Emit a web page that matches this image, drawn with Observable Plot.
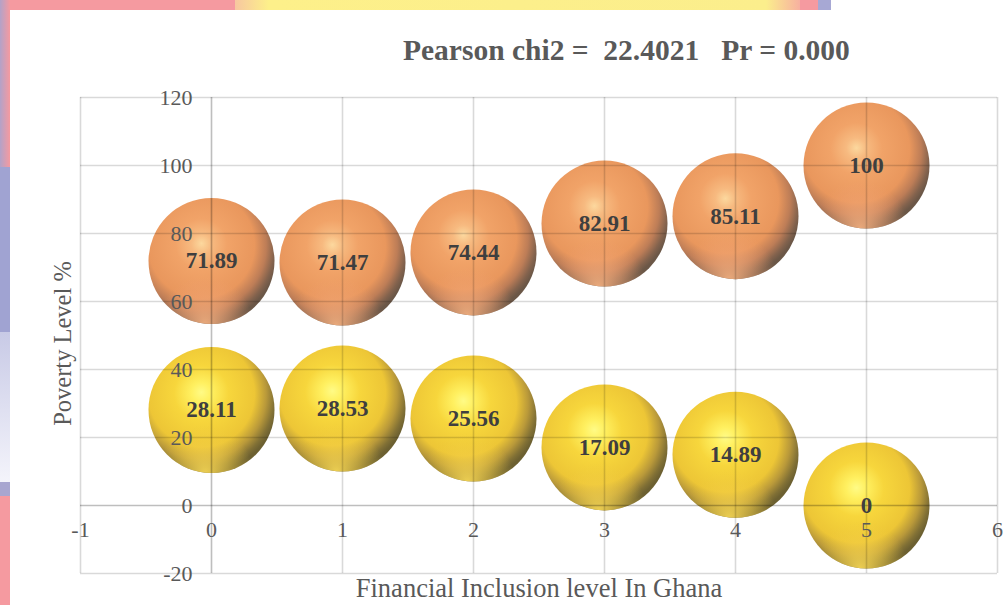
<!DOCTYPE html>
<html>
<head>
<meta charset="utf-8">
<script src="https://cdn.jsdelivr.net/npm/d3@7"></script>
<script src="https://cdn.jsdelivr.net/npm/@observablehq/plot@0.6"></script>
<style>
  html, body { margin: 0; padding: 0; }
  body { width: 1007px; height: 605px; position: relative; overflow: hidden; background: #fff; font-family: "Liberation Serif", "Times New Roman", serif; }
  .band { position: absolute; }
  #card { position: absolute; left: 10px; top: 10px; width: 997px; height: 595px; background: #fff; }
  #title { position: absolute; left: 393px; top: 25px; font-size: 29.5px; line-height: 30px; font-weight: bold; color: #595959; white-space: pre; }
  #chart { position: absolute; left: 0px; top: 60px; }
</style>
</head>
<body>
<div class="band" style="left:0;top:0;width:235px;height:10px;background:#f59aa0"></div>
<div class="band" style="left:235px;top:0;width:565px;height:10px;background:linear-gradient(90deg,#f7c7a0 0%,#fdf08a 6%,#fbee8c 94%,#f7b0a0 100%)"></div>
<div class="band" style="left:800px;top:0;width:18px;height:10px;background:#f59aa0"></div>
<div class="band" style="left:818px;top:0;width:13px;height:10px;background:#a7a8d4"></div>
<div class="band" style="left:0;top:0;width:10px;height:167px;background:linear-gradient(90deg,#b3a2c8,#f59aa0)"></div>
<div class="band" style="left:0;top:167px;width:10px;height:165px;background:#a0a3d2"></div>
<div class="band" style="left:0;top:332px;width:10px;height:150px;background:linear-gradient(180deg,#c8cae6,#f4f4fb)"></div>
<div class="band" style="left:0;top:482px;width:10px;height:14px;background:#a8a6d0"></div>
<div class="band" style="left:0;top:496px;width:10px;height:109px;background:#f59aa0"></div>
<div id="card">
  <div id="title"></div>
  <div id="chart"></div>
</div>
<script>
// ---- data ----
const levels = [0, 1, 2, 3, 4, 5];
const orangeValues = [71.89, 71.47, 74.44, 82.91, 85.11, 100];
const yellowValues = [28.11, 28.53, 25.56, 17.09, 14.89, 0];
const xTicks = [-1, 0, 1, 2, 3, 4, 5, 6];
const yTicks = [-20, 0, 20, 40, 60, 80, 100, 120];
const titleText = "Pearson chi2 =  22.4021   Pr = 0.000";
const xLabel = "Financial Inclusion level In Ghana";
const yLabel = "Poverty Level %";

document.getElementById("title").textContent = titleText;

const orangeData = levels.map((x, i) => ({x, y: orangeValues[i]}));
const yellowData = levels.map((x, i) => ({x, y: yellowValues[i]}));

const serif = "Liberation Serif, Times New Roman, serif";
const R = 63;

const plot = Plot.plot({
  width: 997,
  height: 535,
  marginLeft: 70,
  marginRight: 10,
  marginTop: 27,
  marginBottom: 32,
  x: {domain: [-1, 6], axis: null},
  y: {domain: [-20, 120], axis: null},
  style: {background: "transparent", fontFamily: serif, overflow: "visible"},
  marks: [
    // bubbles
    Plot.dot(orangeData, {x: "x", y: "y", r: R, fill: "url(#gO)", stroke: "none"}),
    Plot.dot(orangeData, {x: "x", y: "y", r: R, fill: "url(#gOrim)", stroke: "none"}),
    Plot.dot(yellowData, {x: "x", y: "y", r: R, fill: "url(#gY)", stroke: "none"}),
    Plot.dot(yellowData, {x: "x", y: "y", r: R, fill: "url(#gYrim)", stroke: "none"}),
    // grid
    Plot.ruleX(xTicks, {stroke: "#000", strokeOpacity: 0.15, strokeWidth: 1.6}),
    Plot.ruleY(yTicks, {stroke: "#000", strokeOpacity: 0.15, strokeWidth: 1.6}),
    Plot.ruleX([0], {stroke: "#000", strokeOpacity: 0.12, strokeWidth: 1.6}),
    Plot.ruleY([0], {stroke: "#000", strokeOpacity: 0.12, strokeWidth: 1.6}),
    // tick labels
    Plot.text(yTicks, {x: 0, y: d => d, text: d => String(d), textAnchor: "end", dx: -19, fontSize: 22, fill: "#595959", fontFamily: serif}),
    Plot.text(xTicks, {x: d => d, y: 0, text: d => String(d), dy: 24, fontSize: 22, fill: "#595959", fontFamily: serif}),
    // data labels
    Plot.text(orangeData, {x: "x", y: "y", text: d => String(d.y), fontSize: 23, fontWeight: "bold", fill: "#3f3f3f", fontFamily: serif}),
    Plot.text(yellowData, {x: "x", y: "y", text: d => String(d.y), fontSize: 23, fontWeight: "bold", fill: "#3f3f3f", fontFamily: serif}),
    // axis titles
    Plot.text([xLabel], {frameAnchor: "bottom", dy: 23, fontSize: 26.5, fill: "#595959", fontFamily: serif}),
    Plot.text([yLabel], {frameAnchor: "left", textAnchor: "middle", rotate: -90, dx: -17, dy: 8, fontSize: 24.5, fill: "#595959", fontFamily: serif})
  ]
});

document.getElementById("chart").appendChild(plot);

// gradient definitions for the 3D bubbles
const svg = d3.select(plot);
const defs = svg.insert("defs", ":first-child");
function radial(id, stops, cx, cy, r, fx, fy) {
  const g = defs.append("radialGradient").attr("id", id)
    .attr("cx", cx).attr("cy", cy).attr("r", r).attr("fx", fx).attr("fy", fy);
  stops.forEach(([o, c, a]) => g.append("stop").attr("offset", o).attr("stop-color", c).attr("stop-opacity", a == null ? 1 : a));
}
radial("gO", [
  [0, "#fcd89e"], [0.13, "#f7ba80"], [0.33, "#f1a368"], [0.68, "#e9975d"],
  [0.83, "#bd7d57"], [0.94, "#82624d"], [1, "#6b5747"]
], 0.42, 0.38, 0.62, 0.42, 0.36);
radial("gOrim", [
  [0, "#f8b382", 0.9], [0.5, "#f3a878", 0.5], [1, "#f0a070", 0]
], 0.45, 1.0, 0.38, 0.45, 1.0);
radial("gY", [
  [0, "#fffb86"], [0.13, "#fff060"], [0.35, "#f7d63c"], [0.68, "#edc636"],
  [0.83, "#b9993a"], [0.94, "#817035"], [1, "#6c6031"]
], 0.42, 0.38, 0.62, 0.42, 0.36);
radial("gYrim", [
  [0, "#fbdb56", 0.9], [0.5, "#f6d24a", 0.5], [1, "#f0cc40", 0]
], 0.45, 1.0, 0.38, 0.45, 1.0);
</script>
</body>
</html>
